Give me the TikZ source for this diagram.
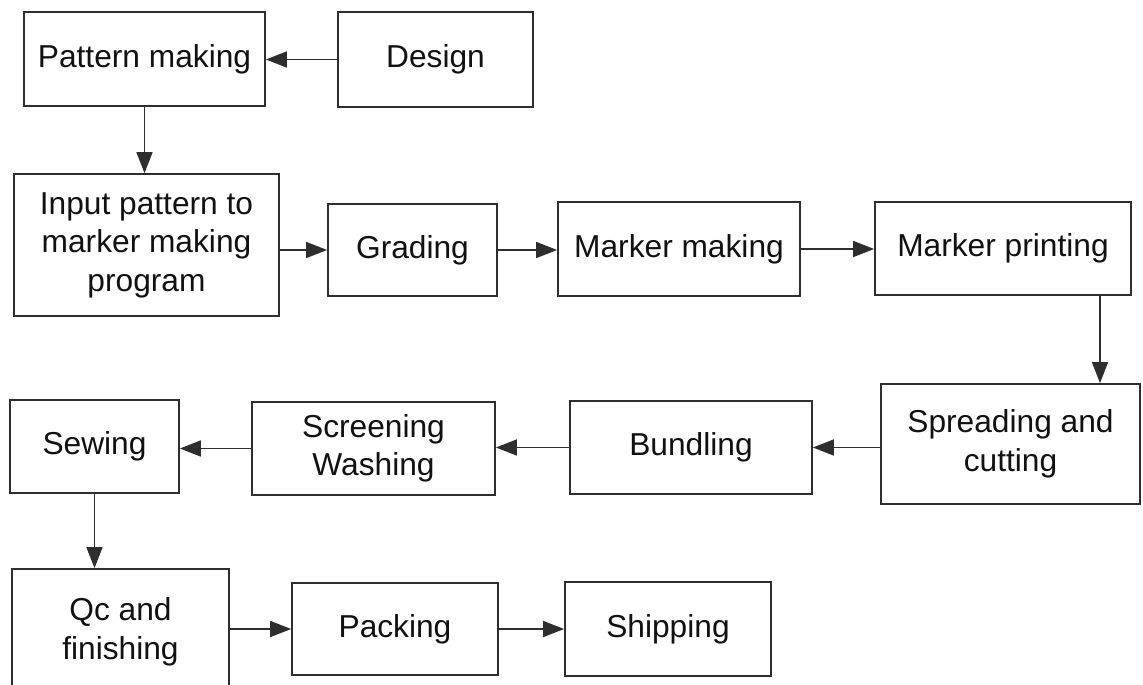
\documentclass[tikz,border=0pt]{standalone}
\usepackage{fontspec}
\setmainfont{Liberation Sans}
\usetikzlibrary{arrows.meta}
\definecolor{linec}{HTML}{2E2E2E}
\definecolor{textc}{HTML}{111111}
\begin{document}
\begin{tikzpicture}[x=1pt,y=-1pt,
  box/.style={draw=linec, line width=1.7pt, inner sep=0pt, align=center,
    text=textc, font=\fontsize{31.7}{38.5}\selectfont},
  arr/.style={draw=linec, line width=1.4pt, -{Triangle[length=21pt,width=16pt]}}]
\useasboundingbox[fill=white] (0,0) rectangle (1143,685);
\node[box, minimum width=241pt, minimum height=94pt] (pat) at (144.5,59) {Pattern making};
\node[box, minimum width=195pt, minimum height=95pt] (des) at (435.5,59.5) {Design};
\node[box, minimum width=265pt, minimum height=142pt] (inp) at (146.5,245) {Input pattern to\\marker making\\program};
\node[box, minimum width=169pt, minimum height=92pt] (gra) at (412.5,250) {Grading};
\node[box, minimum width=242pt, minimum height=94pt] (mkm) at (679,249) {Marker making};
\node[box, minimum width=256pt, minimum height=93pt] (mkp) at (1003,248.5) {Marker printing};
\node[box, minimum width=259pt, minimum height=120pt] (spr) at (1010.5,444) {Spreading and\\cutting};
\node[box, minimum width=242pt, minimum height=93pt] (bun) at (691,447.5) {Bundling};
\node[box, minimum width=243pt, minimum height=93pt] (scr) at (373.5,448.5) {Screening\\Washing};
\node[box, minimum width=169pt, minimum height=93pt] (sew) at (94.5,446.5) {Sewing};
\node[box, minimum width=217pt, minimum height=126pt] (qc) at (120.5,632) {Qc and\\finishing};
\node[box, minimum width=206pt, minimum height=92pt] (pac) at (395,629) {Packing};
\node[box, minimum width=206pt, minimum height=94pt] (shi) at (668,629) {Shipping};
\draw[arr] (des.west) -- (des.west -| pat.east);
\draw[arr] (pat.south) -- (pat.south |- inp.north);
\draw[arr] (inp.east |- gra.west) -- (gra.west);
\draw[arr] (gra.east) -- (gra.east -| mkm.west);
\draw[arr] (mkm.east) -- (mkm.east -| mkp.west);
\draw[arr] ([xshift=97pt]mkp.south) -- ([xshift=97pt]mkp.south |- spr.north);
\draw[arr] (spr.west |- bun.east) -- (bun.east);
\draw[arr] (bun.west) -- (bun.west -| scr.east);
\draw[arr] (scr.west) -- (scr.west -| sew.east);
\draw[arr] (sew.south) -- (sew.south |- qc.north);
\draw[arr] (qc.east |- pac.west) -- (pac.west);
\draw[arr] (pac.east) -- (pac.east -| shi.west);
\end{tikzpicture}
\end{document}
